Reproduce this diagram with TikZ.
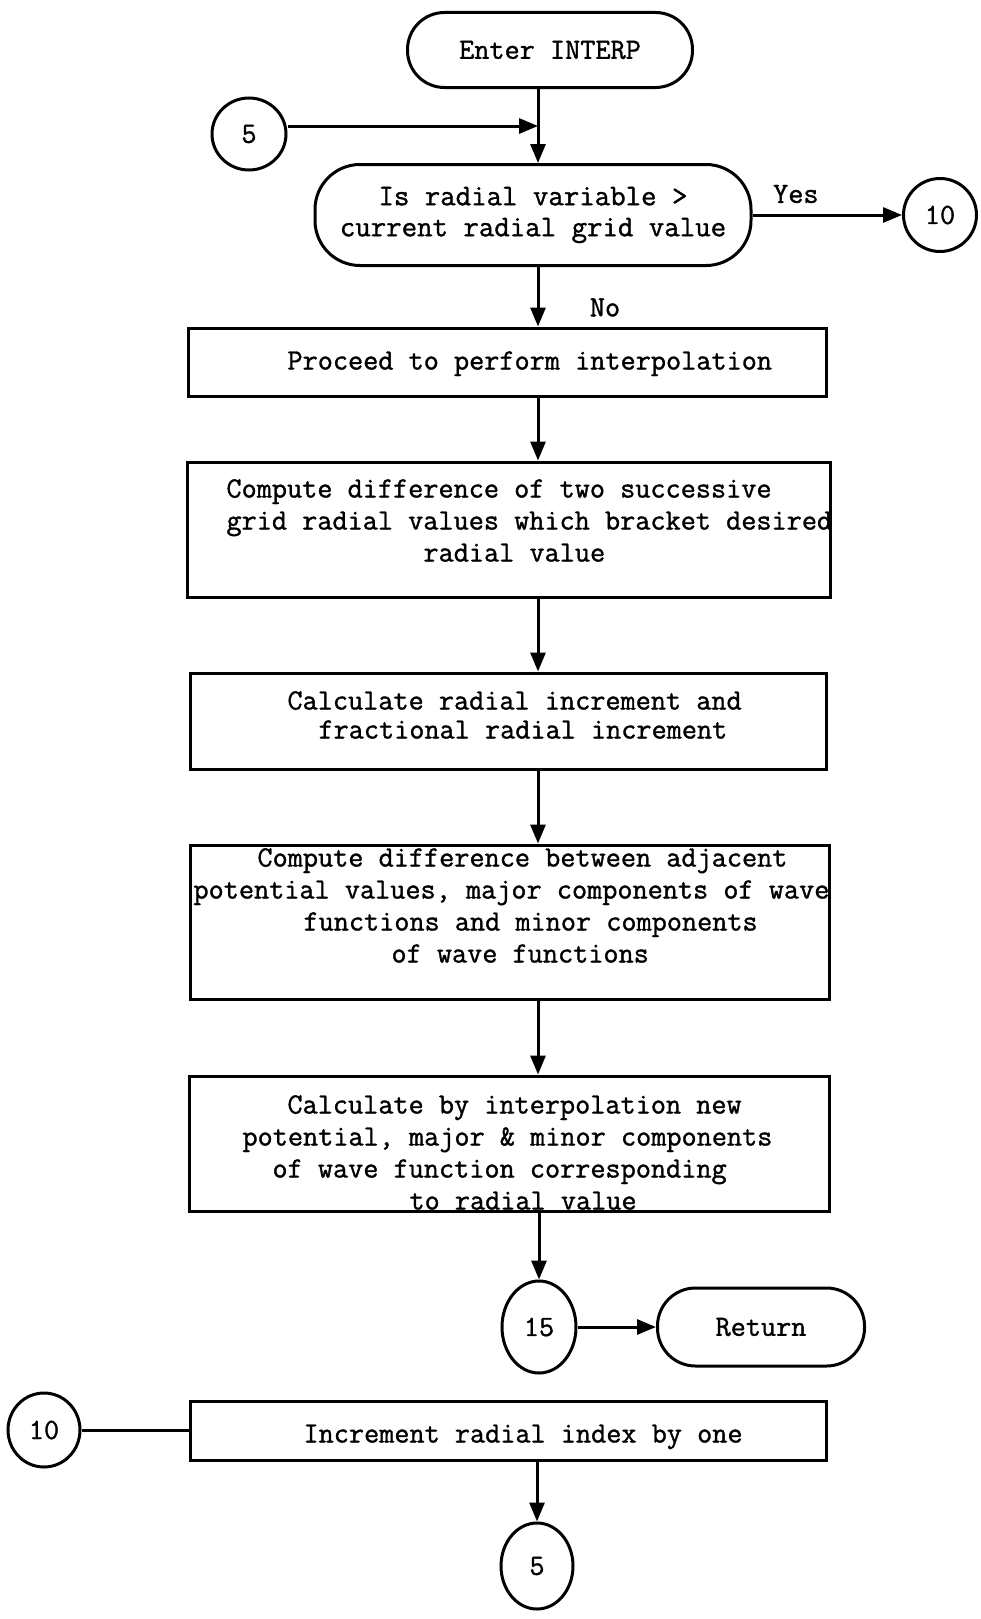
\documentclass[tikz,border=0pt]{standalone}
\usepackage{fontspec}
\newfontfamily\typer{Latin Modern Mono}[FakeBold=1.2]
\usetikzlibrary{arrows.meta,shapes.geometric}
\begin{document}
\begin{tikzpicture}[x=1pt,y=-1pt,
  line width=3pt,
  every node/.style={font=\fontsize{29.4}{32}\selectfont\typer},
  boxn/.style={draw, rectangle, inner sep=0pt},
  term/.style={draw, rectangle, inner sep=0pt, align=center},
  conn/.style={draw, ellipse, inner sep=0pt},
  body/.style={anchor=north west, inner sep=0pt, align=left},
  arr/.style={-{Triangle[length=19pt,width=15pt]}}
]
\fill[white] (0,0) rectangle (980,1619);
\useasboundingbox (0,0) rectangle (980,1619);

% terminals and decision
\node[term, rounded corners=37pt, minimum width=285pt, minimum height=75pt] (enter) at (550,50) {Enter INTERP};
\node[term, rounded corners=45pt, minimum width=436pt, minimum height=101pt,
      font=\fontsize{30}{31}\selectfont\typer] (dec) at (533,215) {Is radial variable >\\current radial grid value};
\node[term, rounded corners=38pt, minimum width=207pt, minimum height=78pt] (ret) at (761,1327) {Return};

% connectors (off-page references)
\node[conn, minimum width=74pt, minimum height=72pt] (c5a) at (249,134) {5};
\node[conn, minimum width=73pt, minimum height=73pt] (c10a) at (940,215) {10};
\node[conn, minimum width=74pt, minimum height=92pt] (c15) at (539,1327) {15};
\node[conn, minimum width=72pt, minimum height=74pt] (c10b) at (44,1430) {10};
\node[conn, minimum width=72pt, minimum height=86pt] (c5b) at (537,1566) {5};

% process boxes
\node[boxn, minimum width=638pt, minimum height=68pt] (b1) at (507,362) {};
\node[boxn, minimum width=643pt, minimum height=135pt] (b2) at (508.5,529.5) {};
\node[boxn, minimum width=636pt, minimum height=96pt] (b3) at (508,721) {};
\node[boxn, minimum width=639pt, minimum height=154pt] (b4) at (509.5,922) {};
\node[boxn, minimum width=640pt, minimum height=135pt] (b5) at (509,1143.5) {};
\node[boxn, minimum width=636pt, minimum height=59pt] (b6) at (508,1430.5) {};

% box texts, typed line by line
\node[body] (b1t) at (188,345.6) {\strut\hspace*{98pt}Proceed to perform interpolation};
\node[body] (b2t) at (187,473.6) {\strut\hspace*{38pt}Compute difference of two successive\\
  \hspace*{38pt}grid radial values which bracket desired\\
  \hspace*{235pt}radial value};
\node[body, font=\fontsize{29.4}{29}\selectfont\typer] (b3t) at (190,687.7) {\strut\hspace*{96pt}Calculate radial increment and\\
  \hspace*{127pt}fractional radial increment};
\node[body] (b4t) at (190,842.6) {\strut\hspace*{66pt}Compute difference between adjacent\\
  \hspace*{2pt}potential values, major components of wave\\
  \hspace*{112pt}functions and minor components\\
  \hspace*{200pt}of wave functions};
\node[body] (b5t) at (189,1089.6) {\strut\hspace*{97pt}Calculate by interpolation new\\
  \hspace*{52pt}potential, major \& minor components\\
  \hspace*{82pt}of wave function corresponding\\
  \hspace*{219pt}to radial value};
\node[body] (b6t) at (190,1418.6) {\strut\hspace*{112pt}Increment radial index by one};

% flow lines
\coordinate (jn) at (538,126);
\draw (enter.south -| jn) -- (jn);
\draw[arr] (c5a.east |- jn) -- (jn);
\draw[arr] (jn) -- (dec.north -| jn);
\draw[arr] (dec.east) -- node[pos=.29, yshift=21pt] (yeslbl) {Yes} (c10a.west);
\draw[arr] (dec.south -| jn) -- node[pos=.68, xshift=67pt] (nolbl) {No} (b1.north -| jn);
\draw[arr] (b1.south -| jn) -- (b2.north -| jn);
\draw[arr] (b2.south -| jn) -- (b3.north -| jn);
\draw[arr] (b3.south -| jn) -- (b4.north -| jn);
\draw[arr] (b4.south -| jn) -- (b5.north -| jn);
\draw[arr] (b5.south -| c15.north) -- (c15.north);
\draw[arr] (c15.east) -- (ret.west);
\draw (c10b.east) -- (c10b.east -| b6.west);
\draw[arr] (b6.south -| c5b.north) -- (c5b.north);
\end{tikzpicture}
\end{document}
